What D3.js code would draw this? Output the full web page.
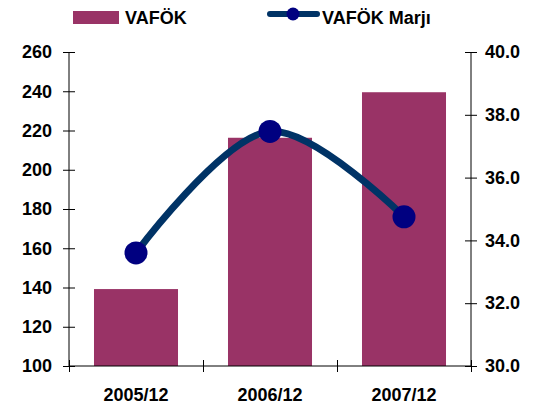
<!DOCTYPE html>
<html>
<head>
<meta charset="utf-8">
<script src="https://cdn.jsdelivr.net/npm/d3@7"></script>
<style>
  body { margin: 0; background: #fff; }
  text { font-family: Arial, "Liberation Sans", sans-serif; font-weight: bold; fill: #000; }
</style>
</head>
<body>
<div id="chart"></div>
<script>
// Data
const periods = ["2005/12", "2006/12", "2007/12"];
const vafok = [139.2, 216.3, 239.5];
const marj = [33.6, 37.47, 34.75];
const leftTicks = [100, 120, 140, 160, 180, 200, 220, 240, 260];
const rightTicks = [30, 32, 34, 36, 38, 40];

const W = 542, H = 405;
const margin = { top: 52, right: 71, bottom: 39, left: 69 };
const width = W - margin.left - margin.right;
const height = H - margin.top - margin.bottom;

const svg = d3.select("#chart").append("svg")
    .attr("width", W)
    .attr("height", H);

const g = svg.append("g")
    .attr("transform", `translate(${margin.left},${margin.top})`);

// Scales
const x = d3.scaleBand()
    .domain(periods)
    .range([0, width])
    .paddingInner(0.373)
    .paddingOuter(0.1865);

const yL = d3.scaleLinear().domain([100, 260]).range([height, 0]);
const yR = d3.scaleLinear().domain([30, 40]).range([height, 0]);

// Bars
g.selectAll(".bar")
    .data(periods)
    .enter().append("rect")
    .attr("class", "bar")
    .attr("x", d => x(d))
    .attr("y", (d, i) => yL(vafok[i]))
    .attr("width", x.bandwidth())
    .attr("height", (d, i) => height - yL(vafok[i]))
    .attr("fill", "#993366");

// Left axis with crossing ticks
const axL = g.append("g")
    .call(d3.axisLeft(yL).tickValues(leftTicks).tickSize(6).tickPadding(11));
axL.selectAll(".tick line").attr("x1", 6);
axL.select(".domain").attr("d", `M0,0V${height}`);

// Right axis
const axR = g.append("g")
    .attr("transform", `translate(${width},0)`)
    .call(d3.axisRight(yR).tickValues(rightTicks).tickFormat(d3.format(".1f")).tickSize(6).tickPadding(8));
axR.selectAll(".tick line").attr("x1", -6);
axR.select(".domain").attr("d", `M0,0V${height}`);

// Bottom axis: ticks on category boundaries
const xb = d3.scaleLinear().domain([0, periods.length]).range([0, width]);
const axB = g.append("g")
    .attr("transform", `translate(0,${height})`)
    .call(d3.axisBottom(xb).tickValues(d3.range(periods.length + 1)).tickFormat("").tickSize(6));
axB.selectAll(".tick line").attr("y1", -6);
axB.select(".domain").attr("d", `M0,0H${width}`);

// Category labels
g.append("g")
    .attr("transform", `translate(0,${height})`)
    .call(d3.axisBottom(x).tickSize(0).tickPadding(22))
    .call(a => a.select(".domain").remove());

svg.selectAll(".domain, .tick line").attr("stroke", "#000");
svg.selectAll(".tick text").attr("font-size", "18px").attr("font-family", "Arial, 'Liberation Sans', sans-serif").attr("font-weight", "bold").attr("fill", "#000");

// Smoothed margin line
const line = d3.line()
    .x((d, i) => x(periods[i]) + x.bandwidth() / 2)
    .y(d => yR(d))
    .curve(d3.curveCatmullRom.alpha(0.5));

g.append("path")
    .datum(marj)
    .attr("d", line)
    .attr("fill", "none")
    .attr("stroke", "#003366")
    .attr("stroke-width", 7);

g.selectAll(".dot")
    .data(marj)
    .enter().append("circle")
    .attr("cx", (d, i) => x(periods[i]) + x.bandwidth() / 2)
    .attr("cy", d => yR(d))
    .attr("r", 11.5)
    .attr("fill", "#000080");

// Legend
const leg = svg.append("g");
leg.append("rect")
    .attr("x", 73).attr("y", 11).attr("width", 46).attr("height", 13)
    .attr("fill", "#993366");
leg.append("text")
    .attr("x", 125).attr("y", 24)
    .attr("font-size", "18px")
    .text("VAFÖK");
leg.append("line")
    .attr("x1", 270).attr("x2", 317).attr("y1", 14).attr("y2", 14)
    .attr("stroke", "#003366").attr("stroke-width", 6).attr("stroke-linecap", "round");
leg.append("circle")
    .attr("cx", 293).attr("cy", 14).attr("r", 6.5)
    .attr("fill", "#000080");
leg.append("text")
    .attr("x", 322).attr("y", 24)
    .attr("font-size", "18px")
    .text("VAFÖK Marjı");
</script>
</body>
</html>
